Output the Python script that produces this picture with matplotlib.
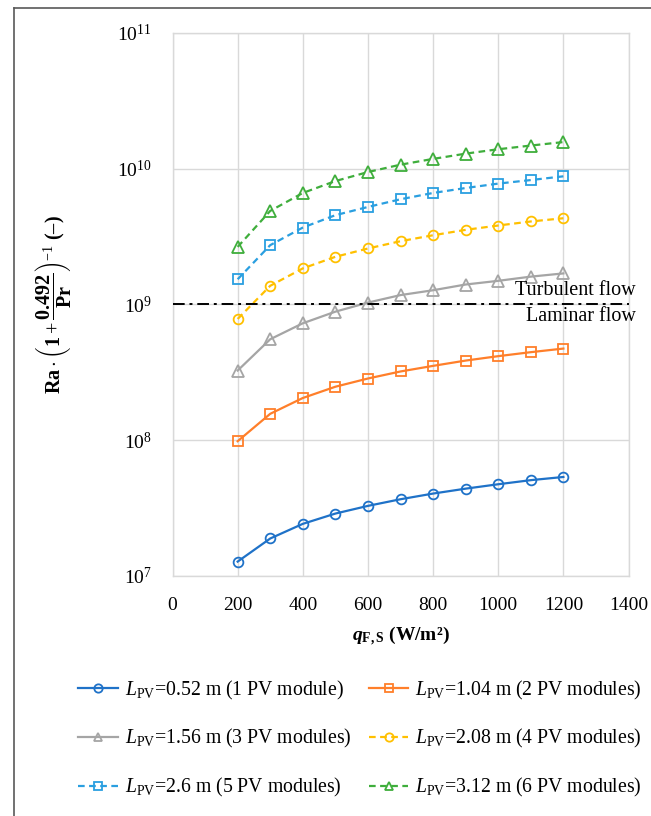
import matplotlib
matplotlib.use("Agg")
import matplotlib.pyplot as plt
from matplotlib.lines import Line2D
from matplotlib.ticker import FixedLocator, FixedFormatter, NullLocator
from matplotlib.transforms import offset_copy

plt.rcParams['font.family'] = ['Liberation Serif', 'DejaVu Serif']
plt.rcParams['mathtext.fontset'] = 'custom'
plt.rcParams['mathtext.rm'] = 'Liberation Serif'
plt.rcParams['mathtext.it'] = 'Liberation Serif:italic'
plt.rcParams['mathtext.bf'] = 'Liberation Serif:bold'
plt.rcParams['mathtext.bfit'] = 'Liberation Serif:italic:bold'

# Data
q_fs = [200, 300, 400, 500, 600, 700, 800, 900, 1000, 1100, 1200]
ra_1 = [1.27e7, 1.88e7, 2.41e7, 2.87e7, 3.27e7, 3.66e7, 4.03e7, 4.38e7, 4.72e7, 5.06e7, 5.34e7]
ra_2 = [9.8e7, 1.56e8, 2.04e8, 2.47e8, 2.84e8, 3.20e8, 3.52e8, 3.85e8, 4.15e8, 4.44e8, 4.72e8]
ra_3 = [3.25e8, 5.53e8, 7.25e8, 8.83e8, 1.03e9, 1.17e9, 1.27e9, 1.40e9, 1.49e9, 1.60e9, 1.69e9]
ra_4 = [7.8e8, 1.37e9, 1.84e9, 2.24e9, 2.58e9, 2.92e9, 3.23e9, 3.54e9, 3.81e9, 4.08e9, 4.31e9]
ra_5 = [1.53e9, 2.73e9, 3.68e9, 4.54e9, 5.22e9, 5.95e9, 6.62e9, 7.20e9, 7.76e9, 8.24e9, 8.78e9]
ra_6 = [2.65e9, 4.88e9, 6.62e9, 8.10e9, 9.44e9, 1.07e10, 1.18e10, 1.29e10, 1.39e10, 1.48e10, 1.57e10]
series = [ra_1, ra_2, ra_3, ra_4, ra_5, ra_6]
labels = [r'$L_{\mathrm{PV}}$=0.52 m (1 PV module)',
          r'$L_{\mathrm{PV}}$=1.04 m (2 PV modules)',
          r'$L_{\mathrm{PV}}$=1.56 m (3 PV modules)',
          r'$L_{\mathrm{PV}}$=2.08 m (4 PV modules)',
          r'$L_{\mathrm{PV}}$=2.6 m (5 PV modules)',
          r'$L_{\mathrm{PV}}$=3.12 m (6 PV modules)']
transition = 1e9
x_ticks = [0, 200, 400, 600, 800, 1000, 1200, 1400]
y_ticks = [1e7, 1e8, 1e9, 1e10, 1e11]
y_ticklabels = [r'$10^{7}$', r'$10^{8}$', r'$10^{9}$', r'$10^{10}$', r'$10^{11}$']

colors = ['#1f72c8', '#ff7f2a', '#a5a5a5', '#ffc000', '#2a9fe0', '#3fae3c']
markers = ['o', 's', '^', 'o', 's', '^']
msizes = [7, 7, 8, 7, 7, 8]
styles = ['-', '-', '-', '--', '--', '--']

fig = plt.figure(figsize=(6.51, 8.16), dpi=100)
ax = fig.add_axes([0.265, 0.2945, 0.7005, 0.6651])

handles = []
for y, c, m, ms, ls, lab in zip(series, colors, markers, msizes, styles, labels):
    kw = dict(dashes=(3, 2)) if ls == '--' else {}
    h, = ax.plot(q_fs, y, color=c, marker=m, markersize=ms, markerfacecolor='none',
                 markeredgecolor=c, markeredgewidth=1.3, linewidth=1.6, linestyle=ls,
                 label=lab, zorder=3, **kw)
    handles.append(h)

ax.axhline(transition, color='black', linewidth=1.4, dashes=(6, 2.5, 1.5, 2.5), zorder=4)
ytr = ax.get_yaxis_transform()
ax.text(1.016, transition, 'Turbulent flow', transform=offset_copy(ytr, fig=fig, y=4, units='dots'),
        ha='right', va='bottom', fontsize=14.5, clip_on=False)
ax.text(1.016, transition, 'Laminar flow', transform=offset_copy(ytr, fig=fig, y=-3, units='dots'),
        ha='right', va='top', fontsize=14.5, clip_on=False)

ax.set_yscale('log')
ax.set_xlim(0, 1400)
ax.set_ylim(1e7, 1e11)
ax.xaxis.set_major_locator(FixedLocator(x_ticks))
ax.yaxis.set_major_locator(FixedLocator(y_ticks))
ax.yaxis.set_major_formatter(FixedFormatter(y_ticklabels))
ax.yaxis.set_minor_locator(NullLocator())
ax.tick_params(axis='both', length=0, labelsize=14, pad=15)
ax.grid(True, color='#d9d9d9', linewidth=1.0, zorder=0)
ax.set_axisbelow(True)
for s in ax.spines.values():
    s.set_color('#d9d9d9')
    s.set_linewidth(1.0)

ax.set_xlabel(r'$\mathbfit{q}_{\mathbf{F,S}}$ (W/m²)', fontsize=14, fontweight='bold', labelpad=8)
ax.set_ylabel(r'$\mathbf{Ra}\cdot\left(\mathbf{1}+\dfrac{\mathbf{0.492}}{\mathbf{Pr}}\right)^{-1}$ (–)',
              fontsize=14.5, fontweight='bold', labelpad=32)

order = [0, 2, 4, 1, 3, 5]
leg = fig.legend([handles[i] for i in order], [labels[i] for i in order],
                 loc='upper left', bbox_to_anchor=(0.108, 0.178), ncol=2, frameon=False,
                 fontsize=14.2, handlelength=2.0, handletextpad=0.35, columnspacing=0.9,
                 labelspacing=1.3, borderaxespad=0)
for h in leg.legend_handles:
    h.set_markersize(6)

fig.add_artist(Line2D([13.5 / 651, 13.5 / 651], [0, 1 - 7.5 / 816], transform=fig.transFigure,
                      color='#595959', linewidth=1.2))
fig.add_artist(Line2D([13.5 / 651, 1], [1 - 7.5 / 816, 1 - 7.5 / 816], transform=fig.transFigure,
                      color='#595959', linewidth=1.2))

fig.savefig('out.png', dpi=100)
